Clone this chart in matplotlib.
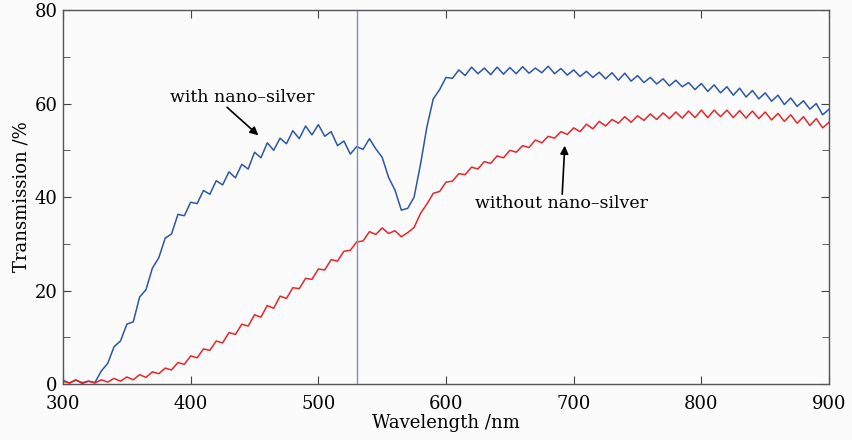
import numpy as np
import matplotlib
matplotlib.use("Agg")
import matplotlib.pyplot as plt

plt.rcParams['font.family'] = ['DejaVu Serif']

# wavelength grid (nm), 5 nm steps
wavelength = np.arange(300, 901, 5)

# transmission (%)
with_silver = [0.8, 0.2, 0.9, 0.1, 0.6, 0.3,
               2.8, 4.4, 8.0, 9.2, 12.8, 13.3, 18.6, 20.2, 24.8, 27.0,
               31.2, 32.1, 36.3, 36.0, 38.9, 38.6, 41.4, 40.6, 43.5, 42.6,
               45.4, 44.1, 47.0, 46.0, 49.6, 48.4, 51.6, 50.0, 52.6, 51.4,
               54.2, 52.5, 55.2, 53.3, 55.5, 53.0, 54.0, 51.0, 52.0, 49.2,
               50.8, 50.2, 52.5, 50.3, 48.5, 44.2, 41.5, 37.2, 37.6, 40.0,
               47.0, 55.0, 61.0, 63.0, 65.6, 65.4, 67.2, 66.0, 67.8, 66.4,
               67.6, 66.2, 67.8, 66.3, 67.7, 66.4, 67.9, 66.5, 67.6, 66.6,
               68.0, 66.4, 67.5, 66.1, 67.2, 65.8, 66.9, 65.6, 66.7, 65.3,
               66.6, 65.0, 66.5, 64.8, 66.0, 64.5, 65.6, 64.2, 65.3, 63.8,
               65.0, 63.6, 64.5, 63.0, 64.3, 62.6, 64.0, 62.3, 63.6, 61.8,
               63.3, 61.4, 62.8, 61.0, 62.3, 60.5, 61.8, 59.8, 61.2, 59.4,
               60.6, 58.8, 60.0, 57.6, 58.8]

without_silver = [0.6, 0.2, 0.8, 0.3, 0.6, 0.2, 0.9, 0.4, 1.2, 0.6,
                  1.5, 0.9, 2.0, 1.4, 2.6, 2.2, 3.4, 3.0, 4.6, 4.2,
                  6.0, 5.6, 7.5, 7.2, 9.2, 8.8, 11.0, 10.6, 12.8, 12.4,
                  14.8, 14.3, 16.8, 16.2, 18.8, 18.3, 20.6, 20.4, 22.6, 22.4,
                  24.6, 24.4, 26.6, 26.3, 28.4, 28.6, 30.4, 30.6, 32.6, 32.0,
                  33.4, 32.2, 32.8, 31.5, 32.4, 33.5, 36.5, 38.5, 40.8, 41.2,
                  43.2, 43.4, 45.0, 44.8, 46.4, 46.0, 47.6, 47.2, 48.8, 48.4,
                  50.0, 49.6, 51.0, 50.6, 52.2, 51.6, 53.0, 52.6, 54.0, 53.4,
                  54.8, 54.0, 55.6, 54.6, 56.2, 55.2, 56.6, 55.8, 57.2, 56.0,
                  57.4, 56.4, 57.8, 56.6, 58.0, 56.8, 58.2, 56.9, 58.4, 57.0,
                  58.6, 57.0, 58.6, 57.2, 58.6, 57.0, 58.5, 56.9, 58.4, 56.8,
                  58.2, 56.5, 57.9, 56.2, 57.6, 55.8, 57.2, 55.3, 56.8, 54.8,
                  56.0]

marker_line = 530

fig = plt.figure(figsize=(8.53, 4.40), dpi=100)
fig.patch.set_facecolor('#fbfbfb')
ax = fig.add_axes([0.0739, 0.1273, 0.898, 0.8497])
ax.set_facecolor('#fbfbfb')

ax.plot(wavelength, with_silver, color='#2b56a8', lw=1.1)
ax.plot(wavelength, without_silver, color='#e8262a', lw=1.1)
ax.axvline(marker_line, color='#7f8fc0', lw=1.0)

ax.set_xlim(300, 900)
ax.set_ylim(0, 80)
ax.set_xticks([300, 400, 500, 600, 700, 800, 900])
ax.set_yticks([0, 20, 40, 60, 80])
ax.set_yticks([10, 30, 50, 70], minor=True)
ax.tick_params(which='both', direction='in', top=True, right=True,
               labelsize=13, color='#444444')
ax.tick_params(axis='x', pad=8)
ax.tick_params(axis='y', pad=4)
ax.tick_params(which='major', length=6)
ax.tick_params(which='minor', length=5)
for s in ax.spines.values():
    s.set_color('#555555')
    s.set_linewidth(1.0)

ax.set_xlabel('Wavelength /nm', fontsize=13, labelpad=1)
ax.set_ylabel('Transmission /%', fontsize=13, labelpad=3)

ax.text(440, 61.4, 'with nano\u2013silver', fontsize=12.5, ha='center', va='center')
ax.annotate('', xy=(453, 53.2), xytext=(428.5, 59.2),
            arrowprops=dict(arrowstyle='-|>', color='black', lw=1.2,
                            mutation_scale=12, shrinkA=0, shrinkB=0))
ax.text(690.8, 38.7, 'without nano\u2013silver', fontsize=12.5, ha='center', va='center')
ax.annotate('', xy=(693, 51.0), xytext=(691, 40.6),
            arrowprops=dict(arrowstyle='-|>', color='black', lw=1.2,
                            mutation_scale=12, shrinkA=0, shrinkB=0))

fig.savefig('out.png', dpi=100, facecolor=fig.get_facecolor())
